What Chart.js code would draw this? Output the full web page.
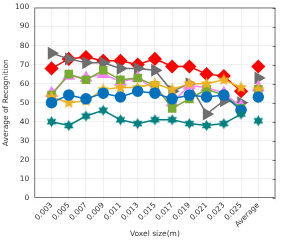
<!DOCTYPE html>
<html>
<head>
<meta charset="utf-8">
<script src="https://cdn.jsdelivr.net/npm/chart.js@4"></script>
<style>
html,body{margin:0;padding:0;background:#fff;}
#wrap{width:283px;height:242px;}
</style>
</head>
<body>
<div id="wrap"><canvas id="c" width="283" height="242"></canvas></div>
<script>
// === Data ===
const sizes = ['0.003','0.005','0.007','0.009','0.011','0.013','0.015','0.017','0.019','0.021','0.023','0.025','Average'];
const redVals    = [68,73,74,72,72,70,73,69,69,65,64,56, 69];
const grayVals   = [76,73,71,71,68,68,67,56,60,44,51,50, 63];
const greenVals  = [54,65,62,67,62,63,59,47,52,57,54,47, 57];
const pinkVals   = [55,64,63,65,61,63,57,50,59,58,55,48, 58];
const orangeVals = [53,50,51,57,58,58,60,57,60,60,62,58, 57];
const blueVals   = [50,54,52,55,53,56,55,52,54,53,54,46, 53];
const tealVals   = [40,38,43,46,41,39,41,41,39,38,39,44, 40.5];

// custom filled star markers
function starImg(color, n, r, inner){
  const c=document.createElement('canvas');
  const s=Math.ceil(r*2+2); c.width=s; c.height=s;
  const g=c.getContext('2d');
  g.fillStyle=color; g.beginPath();
  for(let i=0;i<n*2;i++){
    const a=-Math.PI/2+i*Math.PI/n;
    const rr=(i%2===0)?r:r*inner;
    g.lineTo(s/2+rr*Math.cos(a), s/2+rr*Math.sin(a));
  }
  g.closePath(); g.fill();
  return c;
}

const labels=[''].concat(sizes,['']);
function pad(v){ return [null].concat(v,[null]); }

function ds(vals,color,style,extra){
  return Object.assign({
    data:pad(vals), borderColor:color, backgroundColor:color,
    pointBackgroundColor:color, pointBorderColor:color,
    pointStyle:style, pointRadius:4.5, borderWidth:1.5, tension:0,
    segment:{borderColor:ctx=>ctx.p1DataIndex===13?'rgba(0,0,0,0)':undefined}
  },extra||{});
}

const datasets=[
  ds(tealVals,'#008080',starImg('#008080',6,5.5,0.6)),
  ds(blueVals,'#0072BD','circle',{pointRadius:5}),
  ds(orangeVals,'#EDB120',starImg('#EDB120',5,6.5,0.45)),
  ds(greenVals,'#77AC30','rect',{pointRadius:5}),
  ds(pinkVals,'#FF80FF','triangle',{pointRadius:6}),
  ds(grayVals,'#6E6E6E','triangle',{pointRadius:6,pointRotation:90}),
  ds(redVals,'#FF0000','rectRot',{pointRadius:6}),
];

// box round the plot with inward ticks, as in the original figure
const boxPlugin={
  id:'box',
  afterDraw(chart){
    const a=chart.chartArea, g=chart.ctx, ys=chart.scales.y;
    g.save(); g.strokeStyle='#262626'; g.lineWidth=0.6;
    g.strokeRect(a.left+0.5,a.top+0.5,a.right-a.left-1,a.bottom-a.top-1);
    ys.ticks.forEach(t=>{
      const y=Math.round(ys.getPixelForValue(t.value))+0.5;
      g.beginPath(); g.moveTo(a.right-3,y); g.lineTo(a.right,y); g.stroke();
    });
    g.restore();
  }
};

new Chart(document.getElementById('c'),{
  type:'line',
  data:{labels:labels,datasets:datasets},
  options:{
    responsive:false, animation:false,
    layout:{padding:{top:4,right:2,left:2,bottom:3}},
    plugins:{legend:{display:false},tooltip:{enabled:false}},
    scales:{
      x:{
        offset:false,
        grid:{color:'#e6e6e6',lineWidth:0.6,tickLength:3},
        border:{display:false},
        ticks:{color:'#333',font:{family:'DejaVu Sans',size:7.5},maxRotation:45,minRotation:45,autoSkip:false,padding:0},
        title:{display:true,text:'Voxel size(m)',color:'#333',font:{family:'DejaVu Sans',size:7.5},padding:{top:1,bottom:0}}
      },
      y:{
        min:0,max:100,
        grid:{color:'#e6e6e6',lineWidth:0.6,tickLength:3},
        border:{display:false},
        ticks:{stepSize:10,color:'#333',font:{family:'DejaVu Sans',size:7.5},padding:2},
        title:{display:true,text:'Average of Recognition',color:'#333',font:{family:'DejaVu Sans',size:7.5},padding:{top:0,bottom:2}}
      }
    }
  },
  plugins:[boxPlugin]
});
</script>
</body>
</html>
